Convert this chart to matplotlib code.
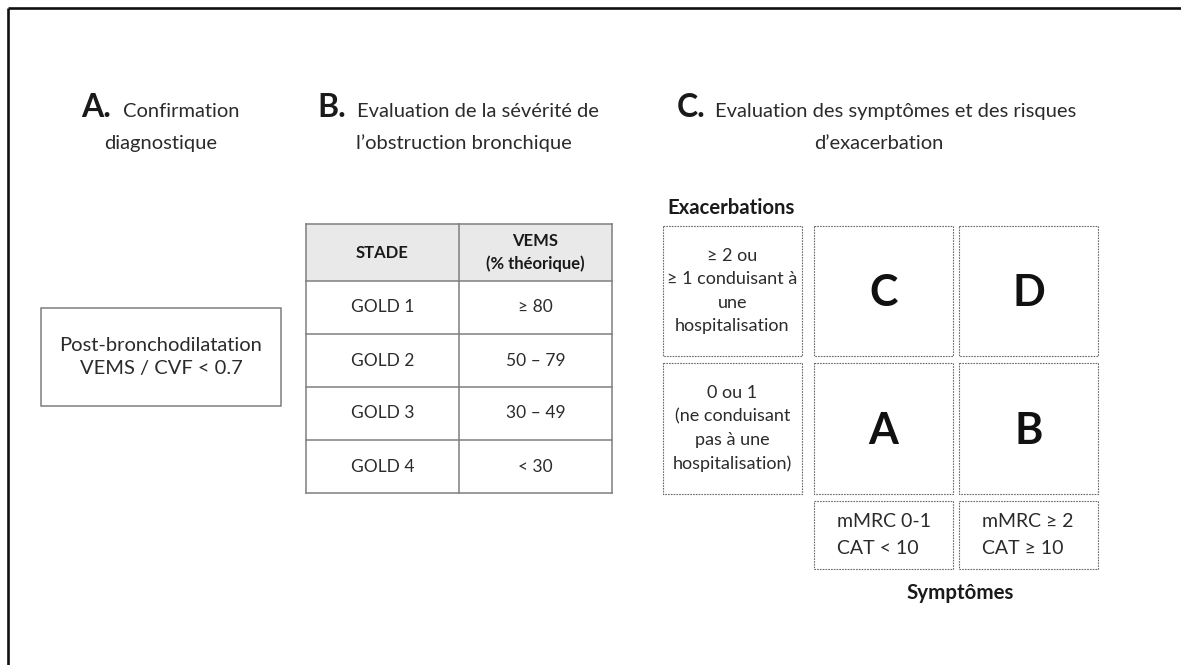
import matplotlib
matplotlib.use('Agg')
import matplotlib.pyplot as plt
from matplotlib.patches import Rectangle

plt.rcParams['font.family'] = ['Lato', 'DejaVu Sans']

# --- contenu du schéma ---
lettres_titres = ['A.', 'B.', 'C.']
titres_l1 = ['Confirmation', 'Evaluation de la sévérité de',
             'Evaluation des symptômes et des risques']
titres_l2 = ['diagnostique', 'l’obstruction bronchique', 'd’exacerbation']

critere = 'Post-bronchodilatation\nVEMS / CVF < 0.7'

entete = ['STADE', 'VEMS\n(% théorique)']
stades = ['GOLD 1', 'GOLD 2', 'GOLD 3', 'GOLD 4']
vems = ['≥ 80', '50 – 79', '30 – 49', '< 30']

exacerbations = ['≥ 2 ou\n≥ 1 conduisant à\nune\nhospitalisation',
                 '0 ou 1\n(ne conduisant\npas à une\nhospitalisation)']
groupes = [['C', 'D'], ['A', 'B']]
symptomes = ['mMRC 0-1\nCAT < 10', 'mMRC ≥ 2\nCAT ≥ 10']

W, H = 1181, 665
fig = plt.figure(figsize=(W / 100, H / 100), dpi=100)
ax = fig.add_axes([0, 0, 1, 1])
ax.set_xlim(0, W)
ax.set_ylim(H, 0)
ax.axis('off')

txt = '#2b2b2b'
gris = '#7f7f7f'

# cadre (haut et gauche)
ax.plot([8, W], [8, 8], color='#111111', lw=1.9, solid_capstyle='butt')
ax.plot([8, 8], [8, H], color='#111111', lw=1.9, solid_capstyle='butt')

# titres
x_lettre = [81, 317, 677]
x_texte = [123, 357, 715]
x_centre = [161, 464, 879]
for i in range(3):
    ax.text(x_lettre[i], 117, lettres_titres[i], fontsize=23, fontweight='bold',
            color='#1a1a1a', ha='left', va='baseline')
    ax.text(x_texte[i], 117, titres_l1[i], fontsize=14.5, color=txt,
            ha='left', va='baseline')
    ax.text(x_centre[i], 149, titres_l2[i], fontsize=14.5, color=txt,
            ha='center', va='baseline')

# A. critère diagnostique
ax.add_patch(Rectangle((41, 308), 240, 98, fill=False, ec=gris, lw=1.1))
ax.text(161, 357, critere, fontsize=14.5, color=txt, ha='center', va='center',
        linespacing=1.42)

# B. tableau GOLD
tx0, tx1, tcol = 306, 612, 459
ty = [224, 281, 334, 387, 440, 493]
ax.add_patch(Rectangle((tx0, ty[0]), tx1 - tx0, ty[1] - ty[0], fc='#e9e9e9', ec='none'))
for y in ty:
    ax.plot([tx0, tx1], [y, y], color=gris, lw=1.1)
for x in (tx0, tcol, tx1):
    ax.plot([x, x], [ty[0], ty[-1]], color=gris, lw=1.1)
cx = [(tx0 + tcol) / 2, (tcol + tx1) / 2]
for j, h in enumerate(entete):
    ax.text(cx[j], (ty[0] + ty[1]) / 2, h, fontsize=12, fontweight='bold',
            color='#1a1a1a', ha='center', va='center', linespacing=1.45)
for i, (s, v) in enumerate(zip(stades, vems)):
    yc = (ty[i + 1] + ty[i + 2]) / 2
    ax.text(cx[0], yc, s, fontsize=12.5, color=txt, ha='center', va='center')
    ax.text(cx[1], yc, v, fontsize=12.5, color=txt, ha='center', va='center')

# C. grille ABCD
dash = dict(fill=False, ec='#6a6a6a', lw=0.8, ls=(0, (1.5, 1)))
cols = [(663, 802), (814, 953), (959, 1098)]
rows = [(226, 356), (363, 494)]
ax.text(667, 208, 'Exacerbations', fontsize=14.6, fontweight='bold',
        color='#1a1a1a', ha='left', va='center')
for r, (y0, y1) in enumerate(rows):
    x0, x1 = cols[0]
    ax.add_patch(Rectangle((x0, y0), x1 - x0, y1 - y0, **dash))
    ax.text((x0 + x1) / 2, (y0 + y1) / 2, exacerbations[r], fontsize=13,
            color=txt, ha='center', va='center', linespacing=1.56)
    for c in range(2):
        x0, x1 = cols[c + 1]
        ax.add_patch(Rectangle((x0, y0), x1 - x0, y1 - y0, **dash))
        ax.text((x0 + x1) / 2, (y0 + y1) / 2 + 2, groupes[r][c], fontsize=31,
                fontweight='bold', color='#111111', ha='center', va='center')
for c in range(2):
    x0, x1 = cols[c + 1]
    ax.add_patch(Rectangle((x0, 501), x1 - x0, 68, **dash))
    ax.text(x0 + 23, 535, symptomes[c], fontsize=14, color=txt,
            ha='left', va='center', linespacing=1.65)
ax.text(960, 593, 'Symptômes', fontsize=14.8, fontweight='bold',
        color='#1a1a1a', ha='center', va='center')

fig.savefig('out.png', dpi=100, facecolor='white')
